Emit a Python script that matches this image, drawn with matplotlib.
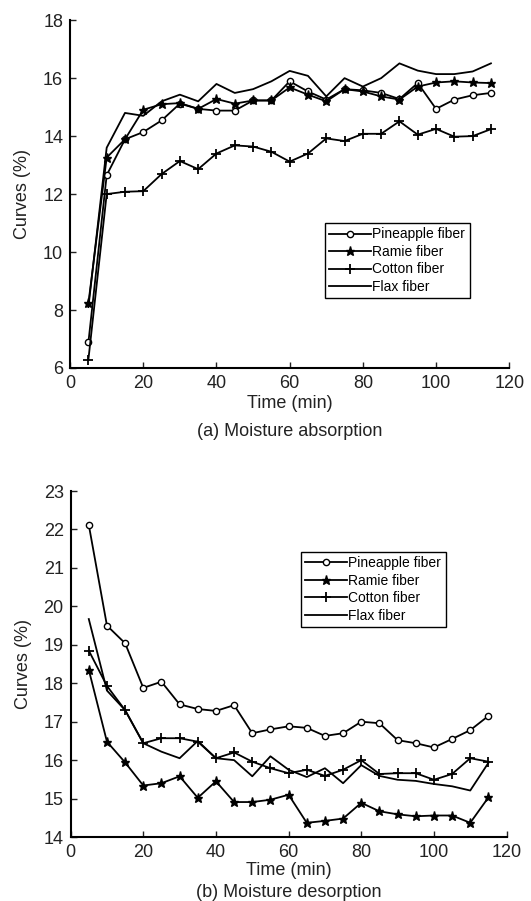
import matplotlib.pyplot as plt
import numpy as np

plt.rcParams['font.family'] = ['Liberation Sans', 'DejaVu Sans']

time = [5, 10, 15, 20, 25, 30, 35, 40, 45, 50, 55, 60,
        65, 70, 75, 80, 85, 90, 95, 100, 105, 110, 115]
labels = ['Pineapple fiber', 'Ramie fiber', 'Cotton fiber', 'Flax fiber']

# (a) moisture absorption
abs_pineapple = [6.88, 12.65, 13.89, 14.14, 14.54, 15.12, 14.94, 14.88, 14.88, 15.23, 15.23, 15.89,
                 15.54, 15.26, 15.62, 15.58, 15.49, 15.28, 15.83, 14.94, 15.26, 15.41, 15.49]
abs_ramie = [8.23, 13.26, 13.89, 14.91, 15.1, 15.14, 14.94, 15.28, 15.12, 15.23, 15.23, 15.68,
             15.43, 15.2, 15.62, 15.54, 15.37, 15.26, 15.71, 15.85, 15.89, 15.85, 15.83]
abs_cotton = [6.29, 12.0, 12.08, 12.1, 12.69, 13.14, 12.86, 13.4, 13.68, 13.64, 13.46, 13.12,
              13.4, 13.92, 13.83, 14.08, 14.08, 14.51, 14.05, 14.25, 13.98, 14.0, 14.24]
abs_flax = [8.1, 13.6, 14.8, 14.7, 15.2, 15.43, 15.2, 15.8, 15.49, 15.62, 15.89, 16.25,
            16.08, 15.37, 16.0, 15.71, 16.0, 16.51, 16.26, 16.14, 16.14, 16.23, 16.51]

# (b) moisture desorption
des_pineapple = [22.12, 19.5, 19.04, 17.88, 18.04, 17.45, 17.33, 17.28, 17.43, 16.7, 16.8, 16.88,
                 16.84, 16.63, 16.7, 17.0, 16.96, 16.52, 16.44, 16.33, 16.55, 16.78, 17.15]
des_ramie = [18.35, 16.48, 15.94, 15.34, 15.4, 15.58, 15.02, 15.45, 14.91, 14.91, 14.97, 15.1,
             14.37, 14.42, 14.48, 14.89, 14.67, 14.59, 14.54, 14.56, 14.56, 14.37, 15.03]
des_cotton = [18.85, 17.93, 17.3, 16.44, 16.57, 16.57, 16.48, 16.05, 16.2, 15.96, 15.79, 15.66,
              15.75, 15.59, 15.75, 16.0, 15.64, 15.66, 15.66, 15.49, 15.64, 16.05, 15.96]
des_flax = [19.67, 17.81, 17.3, 16.44, 16.22, 16.05, 16.5, 16.05, 16.0, 15.58, 16.1, 15.75,
            15.56, 15.79, 15.4, 15.87, 15.59, 15.49, 15.46, 15.38, 15.32, 15.21, 15.93]

fig = plt.figure(figsize=(5.31, 9.01), dpi=100)
ax1 = fig.add_axes([0.132, 0.5916, 0.827, 0.386])
ax2 = fig.add_axes([0.133, 0.071, 0.821, 0.384])


def draw(ax, series, ylim, yticks, caption, leg_box, cap_y, xl_y):
    styles = [dict(marker='o', ms=4.5, mfc='white', mew=1.0),
              dict(marker='*', ms=6.5, mew=1.0),
              dict(marker='+', ms=7, mew=1.3),
              dict(marker=None)]
    for vals, lab, st in zip(series, labels, styles):
        ax.plot(time, vals, color='black', lw=1.3, label=lab, **st)
    ax.set_xlim(0, 120)
    ax.set_ylim(*ylim)
    ax.set_xticks(np.arange(0, 121, 20))
    ax.set_yticks(yticks)
    for s in ['top', 'right']:
        ax.spines[s].set_visible(False)
    for s in ['left', 'bottom']:
        ax.spines[s].set_linewidth(1.5)
    ax.tick_params(direction='in', length=4, width=1, labelsize=13, colors='#222222', pad=5)
    ax.set_xlabel('Time (min)', fontsize=13, color='#222222')
    ax.xaxis.set_label_coords(0.5, xl_y)
    ax.xaxis.label.set_va('center')
    ax.set_ylabel('Curves (%)', fontsize=13, color='#222222')
    ax.yaxis.set_label_coords(-0.108, 0.5)
    ax.yaxis.label.set_va('center')
    ax.text(0.5, cap_y, caption, transform=ax.transAxes, ha='center', va='center',
            fontsize=13, color='#222222')
    leg = ax.legend(loc='lower left', bbox_to_anchor=leg_box, mode='expand',
                    fontsize=10, handlelength=3.0, handletextpad=0.1, borderpad=0.3,
                    labelspacing=0.25, fancybox=False, framealpha=1, borderaxespad=0)
    leg.get_frame().set_edgecolor('black')
    leg.get_frame().set_linewidth(1.0)


draw(ax1, [abs_pineapple, abs_ramie, abs_cotton, abs_flax], (6, 18), np.arange(6, 19, 2),
     '(a) Moisture absorption', (0.58, 0.201, 0.331, 0.233), -0.184, -0.103)
draw(ax2, [des_pineapple, des_ramie, des_cotton, des_flax], (14, 23), np.arange(14, 24, 1),
     '(b) Moisture desorption', (0.529, 0.608, 0.331, 0.236), -0.159, -0.096)

fig.savefig('out.png', dpi=100)
